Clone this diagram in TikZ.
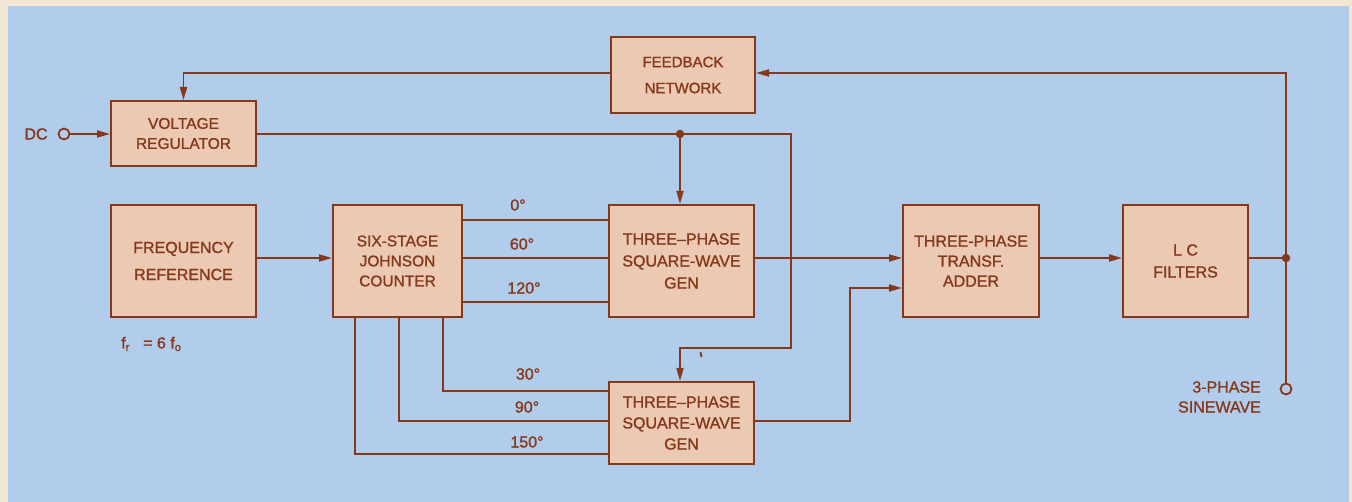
\documentclass[tikz,border=0pt]{standalone}
\usepackage{fontspec}
\setmainfont{Liberation Sans}[FakeBold=1.2]
\usetikzlibrary{arrows.meta}
\definecolor{bgblue}{RGB}{178,204,236}
\definecolor{cream}{RGB}{243,230,210}
\definecolor{boxfill}{RGB}{236,201,178}
\definecolor{brn}{RGB}{134,56,26}
\begin{document}
\begin{tikzpicture}[x=1pt,y=-1pt,
  blk/.style={draw=brn,line width=2pt,fill=boxfill,text=brn,inner sep=0pt,align=center},
  wire/.style={draw=brn,line width=1.8pt},
  arr/.style={wire,-{Triangle[length=13pt,width=7pt]}},
  lbl/.style={text=brn,inner sep=0pt},
  jdot/.style={circle,fill=brn,inner sep=0pt,minimum size=8.5pt},
  port/.style={circle,draw=brn,line width=1.8pt,fill=bgblue,inner sep=0pt,minimum size=11pt}]
\fill[cream] (0,0) rectangle (1352,502);
\fill[bgblue] (8,6) rectangle (1349,502);
\useasboundingbox (0,0) rectangle (1352,502);

% boxes
\node[blk,minimum width=145pt,minimum height=65pt,font=\fontsize{15.5}{20}\selectfont] (vr) at (183.5,133.5) {VOLTAGE\\REGULATOR};
\node[blk,minimum width=144pt,minimum height=76pt,font=\fontsize{15}{26}\selectfont] (fb) at (683,75) {FEEDBACK\\NETWORK};
\node[blk,minimum width=145pt,minimum height=112pt,font=\fontsize{16}{27}\selectfont] (fr) at (183.5,261) {FREQUENCY\\REFERENCE};
\node[blk,minimum width=129pt,minimum height=112pt,font=\fontsize{15.5}{20}\selectfont] (jc) at (397.5,261) {SIX-STAGE\\JOHNSON\\COUNTER};
\node[blk,minimum width=145pt,minimum height=112pt,font=\fontsize{16}{22}\selectfont] (tg) at (681.5,261) {THREE–PHASE\\SQUARE-WAVE\\GEN};
\node[blk,minimum width=145pt,minimum height=82pt,font=\fontsize{16}{21}\selectfont] (bg) at (681.5,423) {THREE–PHASE\\SQUARE-WAVE\\GEN};
\node[blk,minimum width=136pt,minimum height=112pt,font=\fontsize{16}{20}\selectfont] (ad) at (971,261) {THREE-PHASE\\TRANSF.\\ADDER};
\node[blk,minimum width=125pt,minimum height=112pt,font=\fontsize{16}{22}\selectfont] (lc) at (1185.5,261) {L C\\FILTERS};

% ports and junctions
\node[port] (dc) at (64,134) {};
\node[lbl,font=\fontsize{16}{18}\selectfont] (dct) at (36,134) {DC};
\node[port] (out) at (1286,389) {};
\node[lbl,anchor=east,align=right,font=\fontsize{16}{20}\selectfont] (outt) at (1261,397) {3-PHASE\\SINEWAVE};
\node[jdot] (sp) at (680,134) {};
\node[jdot] (od) at (1286,258) {};
\coordinate (rt) at (791,134);
\coordinate (rb) at (791,348);
\coordinate (lb) at (680,348);
\coordinate (fbr) at (1286,73);
\coordinate (bgo) at (850,288);

% connectors
\draw[arr] (dc.east) -- (vr.west |- dc);
\draw[arr] (fb.west |- 0,73) -| (vr.north);
\draw[wire] (vr.east |- sp) -- (sp);
\draw[arr] (sp) -- (sp |- tg.north);
\draw[arr] (sp) -- (rt) -- (rb) -- (lb) -- (lb |- bg.north);
\draw[arr] (fr.east |- 0,258) -- (jc.west |- 0,258);
\draw[wire] (jc.east |- 0,220) -- (tg.west |- 0,220);
\draw[wire] (jc.east |- 0,258) -- (tg.west |- 0,258);
\draw[wire] (jc.east |- 0,302) -- (tg.west |- 0,302);
\draw[wire] (jc.south -| 443,0) |- (bg.west |- 0,391);
\draw[wire] (jc.south -| 399,0) |- (bg.west |- 0,421);
\draw[wire] (jc.south -| 355,0) |- (bg.west |- 0,454);
\draw[arr] (tg.east |- 0,258) -- (ad.west |- 0,258);
\draw[arr] (bg.east |- 0,421) -| (bgo) -- (ad.west |- bgo);
\draw[arr] (ad.east |- 0,258) -- (lc.west |- 0,258);
\draw[wire] (lc.east |- od) -- (od);
\draw[arr] (out.north) -- (fbr) -- (fb.east |- fbr);

% phase labels
\begin{scope}[every node/.style={lbl,font=\fontsize{16}{18}\selectfont}]
\node (p0) at (518,205) {0°};
\node (p60) at (522,244) {60°};
\node (p120) at (524,288) {120°};
\node (p30) at (528,374) {30°};
\node (p90) at (527,407) {90°};
\node (p150) at (527,442) {150°};
\end{scope}
\node[lbl,anchor=west,font=\fontsize{16}{18}\selectfont] (fr6) at (121,344) {f\textsubscript{r}\ \ \ = 6 f\textsubscript{o}};
\draw[brn,line width=1.8pt] (700.5,352) -- (701.5,357);
\end{tikzpicture}
\end{document}
